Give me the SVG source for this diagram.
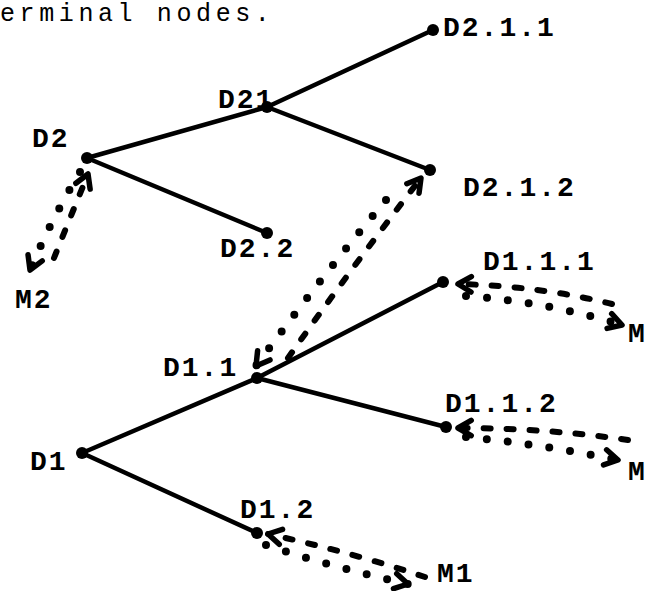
<svg xmlns="http://www.w3.org/2000/svg" width="650" height="591" viewBox="0 0 650 591">
<style>
.bg{fill:#fff}
.cap{font-family:"Liberation Mono","Courier New",monospace;font-size:25px;letter-spacing:4.6px;fill:#000}
.lbl{font-family:"Liberation Mono","Courier New",monospace;font-weight:bold;font-size:28px;letter-spacing:2px;fill:#000}
.dot{fill:#000}
.edge{stroke:#000;stroke-width:4.5;fill:none;stroke-linecap:round}
.dotted{stroke:#000;stroke-width:8;fill:none;stroke-linecap:round;stroke-dasharray:0 21}
.dashed{stroke:#000;stroke-width:6;fill:none;stroke-linecap:round;stroke-dasharray:7 16}
</style>
<defs>
<marker id="ah" viewBox="0 0 20 20" refX="16" refY="10" markerWidth="22" markerHeight="22" markerUnits="userSpaceOnUse" orient="auto">
<path d="M4,3 L16,10 L4,17" fill="none" stroke="#000" stroke-width="5" stroke-linejoin="round" stroke-linecap="round"/>
</marker>
</defs>
<rect class="bg" x="0" y="0" width="650" height="591"/>
<text class="cap" x="0" y="21">erminal nodes.</text>
<g id="connectors">
<line class="edge" x1="82" y1="453" x2="257" y2="378"/>
<line class="edge" x1="82" y1="453" x2="257" y2="533"/>
<line class="edge" x1="257" y1="378" x2="443" y2="282"/>
<line class="edge" x1="257" y1="378" x2="446" y2="427"/>
<line class="edge" x1="87" y1="158" x2="267" y2="107"/>
<line class="edge" x1="87" y1="158" x2="267" y2="233"/>
<line class="edge" x1="267" y1="107" x2="433" y2="30"/>
<line class="edge" x1="267" y1="107" x2="430" y2="170"/>
<path class="dotted" d="M80,172 Q52,218 30,270" marker-end="url(#ah)"/>
<path class="dashed" d="M54,258 Q70,218 88,174" marker-end="url(#ah)"/>
<path class="dotted" d="M386,200 Q322,276 256,366" marker-end="url(#ah)"/>
<path class="dashed" d="M288,358 Q350,270 421,178" marker-end="url(#ah)"/>
<path class="dashed" d="M612,304 Q540,286 458,284" marker-end="url(#ah)"/>
<path class="dotted" d="M466,296 Q548,302 622,325" marker-end="url(#ah)"/>
<path class="dashed" d="M628,440 Q546,428 458,428" marker-end="url(#ah)"/>
<path class="dotted" d="M466,437 Q540,444 618,460" marker-end="url(#ah)"/>
<path class="dashed" d="M425,577 Q350,552 268,534" marker-end="url(#ah)"/>
<path class="dotted" d="M266,545 Q335,568 408,584" marker-end="url(#ah)"/>
</g>
<g id="D1"><circle class="dot" cx="82" cy="453" r="6"/><text class="lbl" x="30" y="470">D1</text></g>
<g id="D1.1"><circle class="dot" cx="257" cy="378" r="6"/><text class="lbl" x="163" y="376">D1.1</text></g>
<g id="D1.1.1"><circle class="dot" cx="443" cy="282" r="6"/><text class="lbl" x="483" y="270">D1.1.1</text></g>
<g id="D1.1.2"><circle class="dot" cx="446" cy="427" r="6"/><text class="lbl" x="445" y="412">D1.1.2</text></g>
<g id="D1.2"><circle class="dot" cx="257" cy="533" r="6"/><text class="lbl" x="240" y="518">D1.2</text></g>
<g id="D2"><circle class="dot" cx="87" cy="158" r="6"/><text class="lbl" x="32" y="147">D2</text></g>
<g id="D21"><circle class="dot" cx="267" cy="107" r="6"/><text class="lbl" x="218" y="108">D21</text></g>
<g id="D2.1.1"><circle class="dot" cx="433" cy="30" r="6"/><text class="lbl" x="443" y="36">D2.1.1</text></g>
<g id="D2.1.2"><circle class="dot" cx="430" cy="170" r="6"/><text class="lbl" x="463" y="196">D2.1.2</text></g>
<g id="D2.2"><circle class="dot" cx="267" cy="233" r="6"/><text class="lbl" x="220" y="257">D2.2</text></g>
<g id="M-a"><text class="lbl" x="628" y="342">M</text></g>
<g id="M-b"><text class="lbl" x="628" y="480">M</text></g>
<g id="M1"><text class="lbl" x="437" y="582">M1</text></g>
<g id="M2"><text class="lbl" x="15" y="308">M2</text></g>
</svg>
